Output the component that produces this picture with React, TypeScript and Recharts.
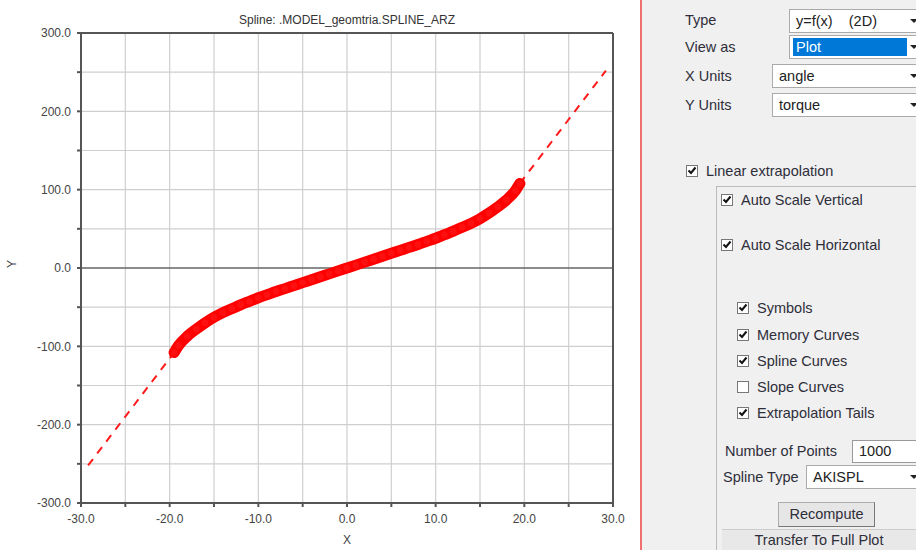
import React from 'react';
import { ComposedChart, Line, XAxis, YAxis, CartesianGrid, ReferenceLine } from 'recharts';

// spline samples (odd symmetric curve)
const splineX = [-19.5, -19, -18, -17, -16, -15, -14, -13, -12, -11, -10, -9, -8, -7, -6, -5, -4, -3, -2, -1, 0,
  1, 2, 3, 4, 5, 6, 7, 8, 9, 10, 11, 12, 13, 14, 15, 16, 17, 18, 19, 19.5];
const splineY = [-108, -99, -87, -78, -70, -63, -57, -52, -47, -42.5, -38, -34, -30, -26.3, -22.5, -18.7, -15, -11.2, -7.5, -3.7, 0,
  3.7, 7.5, 11.2, 15, 18.7, 22.5, 26.3, 30, 34, 38, 42.5, 47, 52, 57, 63, 70, 78, 87, 99, 108];

// linear extrapolation tails
const tailLowX = [-29.2, -19.5];
const tailLowY = [-252, -108];
const tailHighX = [19.5, 29.2];
const tailHighY = [108, 252];

const xTicks = [-30, -25, -20, -15, -10, -5, 0, 5, 10, 15, 20, 25, 30];
const yTicks = [-300, -250, -200, -150, -100, -50, 0, 50, 100, 150, 200, 250, 300];

const splineData = splineX.map((x, i) => ({ x, y: splineY[i] }));
const lowData = tailLowX.map((x, i) => ({ x, y: tailLowY[i] }));
const highData = tailHighX.map((x, i) => ({ x, y: tailHighY[i] }));

const font = '"Liberation Sans", Arial, sans-serif';
const tickStyle = { fill: '#444', fontSize: 12, fontFamily: font };

const CheckBox = ({ checked }: { checked: boolean }) => (
  <span style={{
    display: 'inline-block', width: 12, height: 12, border: '1px solid #777', background: '#fff',
    boxSizing: 'border-box', position: 'relative', marginRight: 8, verticalAlign: -1,
  }}>
    {checked && (
      <svg width={10} height={10} style={{ position: 'absolute', left: 0, top: 0 }}>
        <path d="M1.5 4.5 L4 7 L8.5 1.5" stroke="#111" strokeWidth={2} fill="none" />
      </svg>
    )}
  </span>
);

const Row = ({ x, y, label, checked }: { x: number; y: number; label: string; checked: boolean }) => (
  <div style={{ position: 'absolute', left: x, top: y - 9, whiteSpace: 'nowrap' }}>
    <CheckBox checked={checked} />
    {label}
  </div>
);

const Select = ({ x, y, w, text, selected }: { x: number; y: number; w: number; text: string; selected?: boolean }) => (
  <div style={{
    position: 'absolute', left: x, top: y - 12, width: w, height: 24, background: '#fff',
    border: '1px solid #aaa', boxSizing: 'border-box',
  }}>
    <div style={{
      position: 'absolute', left: 3, top: 2, right: 12, bottom: 2, paddingLeft: 3, whiteSpace: 'pre',
      background: selected ? '#0078d7' : 'transparent', color: selected ? '#fff' : '#222', lineHeight: '18px',
    }}>{text}</div>
    <span style={{ position: 'absolute', right: 1, top: 9, width: 0, height: 0, borderLeft: '4px solid transparent', borderRight: '4px solid transparent', borderTop: '4px solid #222' }} />
  </div>
);

const Label = ({ x, y, text }: { x: number; y: number; text: string }) => (
  <div style={{ position: 'absolute', left: x, top: y - 9, whiteSpace: 'nowrap' }}>{text}</div>
);

export default function App() {
  return (
    <div style={{ position: 'absolute', left: 0, top: 0, width: 916, height: 550, background: '#fff', overflow: 'hidden', fontFamily: font }}>
      <div style={{ position: 'absolute', left: 0, top: 13, width: 640, textAlign: 'center', fontSize: 12, color: '#333', paddingLeft: 54, boxSizing: 'border-box' }}>
        Spline: .MODEL_geomtria.SPLINE_ARZ
      </div>
      <div style={{ position: 'absolute', left: 0, top: 0 }}>
        <ComposedChart width={640} height={550} margin={{ top: 33, right: 27, bottom: 7, left: 0 }}>
          <CartesianGrid stroke="#cfcfcf" strokeWidth={1.2} horizontalValues={yTicks} verticalValues={xTicks} />
          <XAxis
            type="number"
            dataKey="x"
            domain={[-30, 30]}
            ticks={xTicks}
            allowDataOverflow
            interval={0}
            stroke="#555"
            strokeWidth={2}
            tickSize={4}
            tick={{ ...tickStyle, dy: 5 }}
            tickFormatter={(v: number) => (v % 10 === 0 ? v.toFixed(1) : '')}
            height={40}
            label={{ value: 'X', position: 'insideBottom', offset: -1, fill: '#444', fontSize: 12, fontFamily: font }}
          />
          <YAxis
            type="number"
            dataKey="y"
            domain={[-300, 300]}
            ticks={yTicks}
            allowDataOverflow
            interval={0}
            stroke="#555"
            strokeWidth={2}
            tickSize={4}
            tick={{ ...tickStyle, dx: -4 }}
            tickFormatter={(v: number) => (v % 100 === 0 ? v.toFixed(1) : '')}
            width={81}
            label={{ value: 'Y', angle: -90, position: 'insideLeft', offset: 12, fill: '#444', fontSize: 12, fontFamily: font }}
          />
          <ReferenceLine y={0} stroke="#333" strokeWidth={1.2} />
          <ReferenceLine y={300} stroke="#555" strokeWidth={2} />
          <ReferenceLine x={30} stroke="#555" strokeWidth={2} />
          <Line data={lowData} dataKey="y" stroke="#ff1a1a" strokeWidth={2} strokeDasharray="8 7" dot={false} isAnimationActive={false} />
          <Line data={highData} dataKey="y" stroke="#ff1a1a" strokeWidth={2} strokeDasharray="8 7" dot={false} isAnimationActive={false} />
          <Line
            data={splineData}
            dataKey="y"
            type="monotone"
            stroke="#ff0000"
            strokeWidth={11}
            strokeLinecap="round"
            dot={{ r: 4, stroke: '#ff0000', strokeWidth: 1, fill: '#ff1010' }}
            isAnimationActive={false}
          />
        </ComposedChart>
      </div>

      <div style={{ position: 'absolute', left: 640, top: 0, width: 276, height: 550, background: '#f0f0f0', borderLeft: '2px solid #f07070', boxSizing: 'border-box' }} />
      <div style={{ position: 'absolute', left: 0, top: 0, width: 916, height: 550, fontSize: 14.5, color: '#2e2e3a', pointerEvents: 'none' }}>
        <Label x={685} y={21} text="Type" />
        <Select x={789} y={21} w={131} text="y=f(x)    (2D)" />
        <Label x={685} y={48} text="View as" />
        <Select x={789} y={47} w={131} text="Plot" selected />
        <Label x={685} y={77} text="X Units" />
        <Select x={772} y={76} w={148} text="angle" />
        <Label x={685} y={106} text="Y Units" />
        <Select x={772} y={105} w={148} text="torque" />

        <Row x={686} y={172} label="Linear extrapolation" checked />
        <div style={{ position: 'absolute', left: 716, top: 186, width: 210, height: 370, borderLeft: '1px solid #bbb', borderTop: '1px solid #bbb' }} />
        <Row x={721} y={201} label="Auto Scale Vertical" checked />
        <Row x={721} y={246} label="Auto Scale Horizontal" checked />
        <Row x={737} y={309} label="Symbols" checked />
        <Row x={737} y={336} label="Memory Curves" checked />
        <Row x={737} y={362} label="Spline Curves" checked />
        <Row x={737} y={388} label="Slope Curves" checked={false} />
        <Row x={737} y={414} label="Extrapolation Tails" checked />

        <Label x={725} y={452} text="Number of Points" />
        <div style={{ position: 'absolute', left: 852, top: 440, width: 70, height: 23, background: '#fff', border: '1px solid #999', boxSizing: 'border-box', paddingLeft: 6, lineHeight: '21px', color: '#222' }}>1000</div>
        <Label x={723} y={478} text="Spline Type" />
        <Select x={806} y={477} w={114} text="AKISPL" />

        <div style={{ position: 'absolute', left: 778, top: 502, width: 97, height: 25, background: '#e6e6e6', border: '1px solid #adadad', borderRightColor: '#777', borderBottomColor: '#777', boxSizing: 'border-box', textAlign: 'center', lineHeight: '23px' }}>Recompute</div>
        <div style={{ position: 'absolute', left: 722, top: 529, width: 200, height: 21, background: '#e8e8e8', borderTop: '1px solid #ccc', boxSizing: 'border-box', textAlign: 'center', lineHeight: '20px', paddingRight: 6 }}>Transfer To Full Plot</div>
      </div>
    </div>
  );
}
